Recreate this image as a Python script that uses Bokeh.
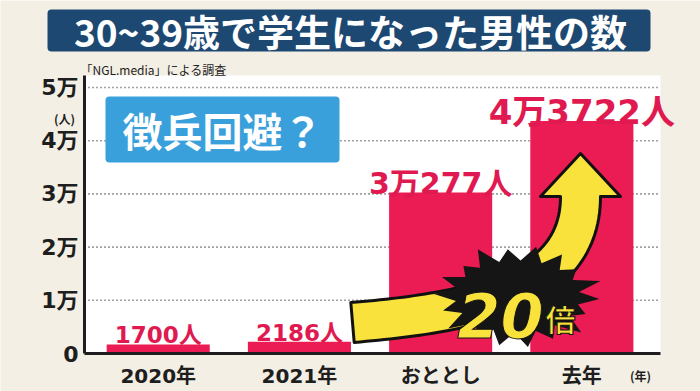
import numpy as np
from bokeh.plotting import figure
from bokeh.models import Range1d, Label, BoxAnnotation, ColumnDataSource
from bokeh.core.properties import value
from bokeh.embed import file_html
from bokeh.resources import INLINE

# ---------------- data ----------------
categories = ["2020年", "2021年", "おととし", "去年"]
values = [1700, 2186, 30277, 43722]
ytick_values = [0, 10000, 20000, 30000, 40000, 50000]
ytick_labels = ["0", "1万", "2万", "3万", "4万", "5万"]
title_text = "30~39歳で学生になった男性の数"
source_text = "「NGL.media」による調査"
callout_text = "徴兵回避？"
y_unit = "(人)"
x_unit = "(年)"

value_labels = [f"{v // 10000}万{v % 10000}人" if v >= 10000 else f"{v}人" for v in values]
ratio = round(values[3] / values[1])

# ---------------- styles ----------------
BAR = "#eb1c53"
LABEL_RED = "#e01a50"
NAVY = "#1c4872"
BLUE = "#3aa0dc"
YELLOW = "#f8e23b"
INK = "#1e1e1e"
BG = "#f3efe4"
MIX = "DejaVu Sans, Noto Sans CJK JP"
CJK = "Noto Sans CJK JP"
label_sizes = ["23px", "23px", "30px", "34px"]

W, H = 700, 391
# chart panel in picture pixels
FL, FR, FT, FB = 84, 660, 75, 353
PX_PER_10K = 53.2
XS = -0.522          # panel left edge in category units
XE = 3.557           # panel right edge in category units
YE = (FB - FT) / PX_PER_10K * 10000   # panel top in people


def dx(px):
    return XS + (px - FL) * (XE - XS) / (FR - FL)


def dy(py):
    return (FB - py) * YE / (FB - FT)


p = figure(width=W, height=H, output_backend="svg", toolbar_location=None,
           x_range=Range1d(dx(0), dx(W)), y_range=Range1d(dy(H), dy(0)),
           x_axis_type=None, y_axis_type=None, title=None,
           min_border=0, min_border_left=0, min_border_right=0,
           min_border_top=0, min_border_bottom=0)
p.outline_line_color = None
p.background_fill_color = BG
p.border_fill_color = BG
p.grid.visible = False

# white chart panel
p.quad(left=[XS], right=[XE], bottom=[0], top=[YE], fill_color="white", line_color=None)

# dotted gridlines
gt = ytick_values[1:]
p.segment(x0=[XS] * len(gt), x1=[XE] * len(gt), y0=gt, y1=gt,
          line_color="#444444", line_width=1.6, line_dash="1 3")

# bars
src = ColumnDataSource(dict(x=list(range(len(values))), top=values))
p.vbar(x="x", top="top", width=0.73, source=src, fill_color=BAR, line_color=None)

# curved arrow (decoration) -- built in pixel space, mapped to data
t = np.linspace(0, 1, 60)
P0, P1, P2, P3 = (np.array(a, float) for a in [(352, 322), (470, 312), (580, 292), (580, 196)])
C = ((1 - t) ** 3)[:, None] * P0 + (3 * (1 - t) ** 2 * t)[:, None] * P1 + \
    (3 * (1 - t) * t ** 2)[:, None] * P2 + (t ** 3)[:, None] * P3
D = ((3 * (1 - t) ** 2)[:, None] * (P1 - P0) + (6 * (1 - t) * t)[:, None] * (P2 - P1) +
     (3 * t ** 2)[:, None] * (P3 - P2))
D = D / np.linalg.norm(D, axis=1)[:, None]
N = np.stack([-D[:, 1], D[:, 0]], axis=1)
half = 20
sideA = C + N * half
sideB = C - N * half
tip = P3 + D[-1] * 43
headA = P3 + N[-1] * 40
headB = P3 - N[-1] * 40
poly = np.vstack([sideA, headA[None], tip[None], headB[None], sideB[::-1]])
p.patch([dx(a) for a in poly[:, 0]], [dy(b) for b in poly[:, 1]],
        fill_color=YELLOW, line_color="#111", line_width=3, line_join="round")

# starburst behind "20倍" (slightly irregular spikes)
k = np.arange(36)
ang = k * np.pi / 18 + 0.05
spike = np.array([1.0, 0.9, 1.06, 0.95, 1.02])[k // 2 % 5]
rx = np.where(k % 2 == 0, 82 * spike, 62)
ry = np.where(k % 2 == 0, 50 * spike, 36)
sx = 517 + rx * np.cos(ang)
sy = 296 + ry * np.sin(ang)
p.patch([dx(a) for a in sx], [dy(b) for b in sy], fill_color="#151515", line_color=None)

# axis lines
p.segment(x0=[XS], x1=[XS], y0=[0], y1=[YE], line_color=INK, line_width=3)
p.segment(x0=[XS], x1=[XE], y0=[0], y1=[0], line_color=INK, line_width=3)

# y tick labels
p.text(x=[XS] * len(ytick_values), y=ytick_values, text=ytick_labels, x_offset=-6,
       text_align="right", text_baseline="middle", text_font=value(MIX),
       text_font_style="bold", text_font_size="22px", text_color=INK)

# category labels
p.text(x=list(range(len(categories))), y=[dy(375)] * len(categories), text=categories,
       text_align="center", text_baseline="alphabetic", text_font=value(MIX),
       text_font_style="bold", text_font_size="20px", text_color=INK)

# value labels above the bars
pad = 9 * YE / (FB - FT)
for i, (v, s, lab) in enumerate(zip(values, label_sizes, value_labels)):
    p.add_layout(Label(x=i, y=v + pad, text=lab, text_align="center", text_baseline="alphabetic",
                       text_font=MIX, text_font_style="bold", text_font_size=s,
                       text_color=LABEL_RED))

p.add_layout(Label(x=dx(500), y=dy(314), text=str(ratio), text_align="center",
                   text_baseline="alphabetic", text_font="DejaVu Sans",
                   text_font_style="bold italic", text_font_size="62px",
                   text_color=YELLOW, text_outline_color="#111"))
p.add_layout(Label(x=dx(545), y=dy(317), text="倍", text_align="left",
                   text_baseline="alphabetic", text_font=CJK, text_font_style="bold",
                   text_font_size="30px", text_color=YELLOW, text_outline_color="#111"))

# callout box
p.add_layout(BoxAnnotation(left=dx(105), right=dx(339), top=dy(96), bottom=dy(162),
                           fill_color=BLUE, fill_alpha=1, line_color=None, border_radius=4))
p.add_layout(Label(x=dx(222), y=dy(129), text=callout_text, text_align="center",
                   text_baseline="middle", text_font=CJK, text_font_style="bold",
                   text_font_size="40px", text_color="white"))

# title banner
p.add_layout(BoxAnnotation(left=dx(47), right=dx(650), top=dy(9), bottom=dy(51),
                           fill_color=NAVY, fill_alpha=1, line_color=None, border_radius=4))
p.add_layout(Label(x=dx(350), y=dy(30), text=title_text, text_align="center",
                   text_baseline="middle", text_font=CJK, text_font_style="bold",
                   text_font_size="37px", text_color="white"))

# source note and unit labels
p.add_layout(Label(x=dx(80), y=dy(69), text=source_text, text_align="left",
                   text_baseline="alphabetic", text_font=CJK, text_font_size="12px",
                   text_color=INK))
p.add_layout(Label(x=dx(64), y=dy(118), text=y_unit, text_align="center",
                   text_baseline="alphabetic", text_font=CJK, text_font_style="bold",
                   text_font_size="12px", text_color=INK))
p.add_layout(Label(x=dx(640), y=dy(375), text=x_unit, text_align="center",
                   text_baseline="alphabetic", text_font=CJK, text_font_style="bold",
                   text_font_size="12px", text_color=INK))

html = file_html(p, INLINE)
html = html.replace("<body>", f'<body style="margin:0;overflow:hidden;background:{BG}">', 1)
open("out.html", "w").write(html)
